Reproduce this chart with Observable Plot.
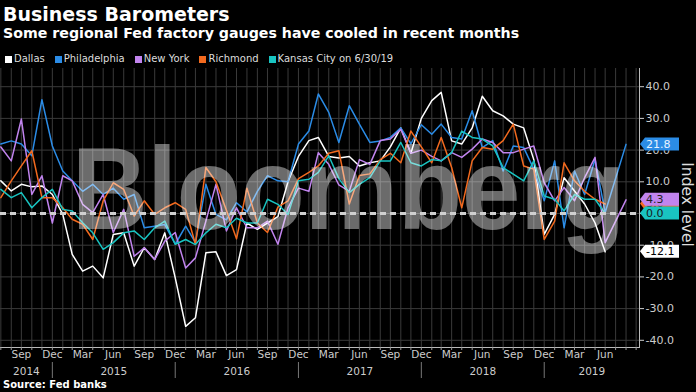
<!DOCTYPE html>
<html><head><meta charset="utf-8">
<script src="https://cdn.jsdelivr.net/npm/d3@7"></script>
<script src="https://cdn.jsdelivr.net/npm/@observablehq/plot@0.6"></script>
<style>
html,body{margin:0;padding:0;background:#000;}
#wrap{position:relative;width:696px;height:392px;overflow:hidden;background:#000;font-family:"DejaVu Sans",sans-serif;color:#fff;}
.title{position:absolute;left:3px;top:5px;font-weight:bold;font-size:19px;line-height:19px;white-space:nowrap;}
.subtitle{position:absolute;left:3px;top:26px;font-weight:bold;font-size:14.2px;line-height:14px;white-space:nowrap;}
.legend{position:absolute;left:5px;top:54px;font-size:10px;line-height:10px;display:flex;color:#ddd;white-space:nowrap;}
.legend .item{display:flex;align-items:center;margin-right:10px;}
.legend .sw{width:7px;height:7px;margin-right:2px;}
#chart{position:absolute;left:0;top:68px;}
.source{position:absolute;left:3px;top:380px;font-weight:bold;font-size:10px;line-height:10px;}
</style></head>
<body>
<div id="wrap">
  <div class="title">Business Barometers</div>
  <div class="subtitle">Some regional Fed factory gauges have cooled in recent months</div>
  <div class="legend" id="legend"></div>
  <div id="chart"></div>
  <div class="source">Source: Fed banks</div>
</div>
<script>
// ---- data (monthly readings, month-end dates starting Jul 2014) ----
const seriesNames = ["Dallas", "Philadelphia", "New York", "Richmond", "Kansas City"];
const legendLabels = ["Dallas", "Philadelphia", "New York", "Richmond", "Kansas City on 6/30/19"];
const colors = ["#ffffff", "#2b8ce6", "#c184ee", "#f26a1f", "#19c4c1"];
const tagTextColors = ["#000000", "#e8f3ff", "#222222", "#222222", "#1a1a1a"];
const firstMonth = "2014-07-01";
const lastMonth = "2019-06-01";
const lastReadingDate = "2019-08-31"; // Philadelphia & New York latest points

const dallas = [10.3, 7.1, 9.2, 8.4, 8.7, 6.0, -0.3, -12.9, -18.2, -16.6,
  -20.3, -6.6, -6.1, -16.6, -10.8, -14.5, -6.1, -20.3, -35.6, -32.9,
  -12.4, -12.1, -19.6, -17.7, -3.0, -5.0, -3.0, -1.0, 10.0, 18.0,
  23.0, 24.0, 18.0, 17.5, 18.0, 15.0, 16.0, 16.6, 21.0, 27.0,
  19.0, 30.0, 35.6, 38.2, 22.9, 21.9, 27.0, 37.0, 32.4, 30.8,
  28.2, 27.0, 17.0, -6.6, -0.3, 11.3, 7.1, 3.0, -3.0, -12.1];
const philadelphia = [21.9, 22.9, 21.9, 18.2, 35.9, 21.3, 13.4, 10.3, 7.0, 9.2,
  6.0, 8.0, 4.5, 6.0, -4.5, -4.0, -3.5, -9.7, -4.0, -9.2,
  9.2, -0.3, -2.0, 3.4, 0.5, 7.0, 11.9, 10.3, 10.0, 21.9,
  26.0, 37.7, 31.9, 22.4, 34.0, 28.2, 22.4, 22.9, 24.0, 27.0,
  22.0, 28.0, 25.0, 28.2, 24.0, 23.5, 32.4, 20.8, 23.0, 13.4,
  21.3, 20.8, 14.0, 4.0, 16.6, -4.5, 13.4, 6.0, 17.1, 0.3];
const philadelphiaLatest = 21.8;
const newYork = [21.0, 16.6, 29.8, 6.0, 11.9, -3.0, 11.9, 10.3, 2.9, 0.3,
  6.0, -6.0, 1.3, -13.5, -10.8, -14.5, -8.7, -6.0, -17.2, -14.0,
  -2.4, 9.2, -5.5, 1.8, -4.5, -4.5, -2.4, -9.7, 1.8, 8.0,
  7.0, 19.2, 15.5, 9.0, 7.0, 17.0, 15.5, 23.0, 23.5, 26.6,
  19.0, 20.0, 18.0, 16.6, 19.2, 17.7, 20.3, 23.5, 22.4, 19.2,
  19.2, 20.3, 21.3, 9.7, 4.0, 8.2, 4.0, 11.3, 17.7, -9.2];
const newYorkLatest = 4.3;
const richmond = [5.0, 10.3, 15.0, 19.8, 5.0, 5.0, 1.8, -1.8, -3.4, -8.2,
  4.0, 9.7, 7.6, -0.8, 4.0, -0.3, 1.8, 3.4, 1.3, -9.7,
  14.5, 10.0, 1.0, -8.0, 8.0, -3.0, -6.0, 2.0, 4.0, 11.0,
  13.0, 15.0, 19.0, 19.8, 3.0, 12.0, 12.5, 17.0, 19.0, 16.0,
  26.0, 21.0, 16.0, 24.0, 14.5, 1.8, 16.6, 20.8, 20.3, 23.0,
  28.2, 15.0, 14.0, -8.2, -2.4, 16.0, 10.3, 7.0, 4.5, 3.0];
const kansasCity = [7.6, 5.0, 6.6, 1.8, 5.0, 7.6, 1.3, 0.8, -2.9, -6.1,
  -11.3, -9.2, -6.1, -5.5, -8.2, -4.5, -2.4, -9.7, -8.2, -9.8,
  -6.1, -3.4, -4.5, -1.5, -3.0, -3.0, 4.5, 2.9, -0.3, 10.3,
  10.8, 13.0, 18.2, 11.0, 6.6, 9.2, 11.3, 16.6, 16.6, 22.4,
  16.0, 15.0, 17.0, 16.6, 19.2, 26.0, 24.0, 23.5, 21.3, 14.5,
  12.4, 10.3, 16.6, 5.5, 4.5, 0.8, 6.0, 4.5, 4.5, 0.0];

const yTicks = [-40, -30, -20, -10, 0, 10, 20, 30, 40];
const tickMonths = ["Mar", "Jun", "Sep", "Dec"];
const years = ["2014", "2015", "2016", "2017", "2018", "2019"];
const xDomain = [new Date("2014-07-30"), new Date("2019-10-10")];
const yDomain = [-42.27, 45.74];

// ---- build tables ----
const monthEnd = d => d3.utcDay.offset(d3.utcMonth.offset(d3.utcMonth.floor(d), 1), -1);
const months = d3.utcMonths(new Date(firstMonth), d3.utcMonth.offset(new Date(lastMonth), 1)).map(monthEnd);
const valuesBySeries = [dallas, philadelphia, newYork, richmond, kansasCity];
const latestBySeries = [null, philadelphiaLatest, newYorkLatest, null, null];
const rows = [];
valuesBySeries.forEach((vals, s) => {
  vals.forEach((v, i) => rows.push({series: seriesNames[s], date: months[i], value: v}));
  if (latestBySeries[s] != null) rows.push({series: seriesNames[s], date: new Date(lastReadingDate), value: latestBySeries[s]});
});
const lastValue = seriesNames.map((name, s) => latestBySeries[s] != null ? latestBySeries[s] : valuesBySeries[s][valuesBySeries[s].length - 1]);

const gridMonths = d3.utcMonths(d3.utcMonth.floor(xDomain[0]), d3.utcMonth.floor(xDomain[1])).map(monthEnd).filter(d => d >= xDomain[0] && d <= xDomain[1]);
const fmtMonth = d3.utcFormat("%b");
const lastLabelDate = monthEnd(new Date(lastMonth));
const quarterDates = gridMonths.filter(d => tickMonths.includes(fmtMonth(d)) && d <= lastLabelDate);
const yearBoundaries = years.slice(0, -1).map(y => new Date(`${y}-12-31`));
const yearLabels = years.map((y, i) => {
  const a = i === 0 ? xDomain[0] : new Date(`${+y - 1}-12-31`);
  const b = i === years.length - 1 ? xDomain[1] : new Date(`${y}-12-31`);
  return {label: y, date: new Date((+a + +b) / 2)};
});

// legend
const legend = document.getElementById("legend");
legendLabels.forEach((l, i) => {
  const it = document.createElement("div"); it.className = "item";
  const sw = document.createElement("div"); sw.className = "sw"; sw.style.background = colors[i];
  const tx = document.createElement("span"); tx.textContent = l;
  it.appendChild(sw); it.appendChild(tx); legend.appendChild(it);
});

function pick(args) {
  return (args[0] && typeof args[0].y === "function") ? [args[0], args[1]] : [args[1], args[3]];
}
function watermark(...args) {
  const [scales, dims] = pick(args);
  const left = dims.marginLeft, right = dims.width - dims.marginRight;
  return d3.create("svg:text")
    .attr("x", left + (right - left) * 0.5455).attr("y", scales.y(-4.9))
    .attr("text-anchor", "middle")
    .attr("font-family", "Liberation Sans, Arial, sans-serif")
    .attr("font-weight", "bold").attr("font-size", 117)
    .attr("textLength", 553).attr("lengthAdjust", "spacingAndGlyphs")
    .attr("fill", "#ffffff").attr("fill-opacity", 0.42)
    .text("Bloomberg").node();
}
const tagOrder = [3, 4, 2, 1, 0];
function tags(...args) {
  const [scales, dims] = pick(args);
  const g = d3.create("svg:g").attr("font-family", "DejaVu Sans, sans-serif").attr("font-size", 11).attr("text-anchor", "start");
  const x0 = dims.width - dims.marginRight + 1;
  for (const s of tagOrder) {
    const y = scales.y(lastValue[s]);
    g.append("path").attr("d", `M${x0},${y}L${x0 + 5},${y - 6.5}H${x0 + 39}V${y + 6.5}H${x0 + 5}Z`).attr("fill", colors[s]);
    g.append("text").attr("x", x0 + 6).attr("y", y).attr("dy", "0.36em").attr("text-anchor", "start").attr("fill", tagTextColors[s]).text(lastValue[s].toFixed(1));
  }
  return g.node();
}

const chart = Plot.plot({
  width: 696, height: 312,
  marginTop: 0, marginBottom: 33, marginLeft: 0, marginRight: 57,
  style: {background: "#000", color: "#ccc", fontFamily: "DejaVu Sans, sans-serif", overflow: "visible"},
  x: {type: "utc", domain: xDomain, axis: null},
  y: {domain: yDomain, axis: null},
  color: {domain: seriesNames, range: colors},
  marks: [
    Plot.ruleY(yTicks, {stroke: "#3a3a3a", strokeWidth: 1}),
    Plot.ruleX(gridMonths, {stroke: "#3a3a3a", strokeWidth: 1}),
    Plot.lineY(rows, {x: "date", y: "value", z: "series", stroke: "series", strokeWidth: 1.5}),
    watermark,
    Plot.ruleY([0], {stroke: "#d0d0d0", strokeWidth: 3, strokeDasharray: "6,4"}),
    Plot.frame({anchor: "bottom", stroke: "#bbb"}),
    Plot.frame({anchor: "right", stroke: "#bbb"}),
    Plot.ruleX(gridMonths, {insetTop: 279, insetBottom: -3, stroke: "#999"}),
    Plot.ruleX(yearBoundaries, {insetTop: 294, insetBottom: -31, stroke: "#777"}),
    Plot.axisX(quarterDates, {anchor: "bottom", tickSize: 0, tickPadding: 3, tickFormat: d => fmtMonth(d), fontSize: 10.5, color: "#cccccc", label: null}),
    Plot.text(yearLabels, {x: "date", text: "label", frameAnchor: "bottom", dy: 27, fill: "#cccccc", fontSize: 10.5}),
    Plot.axisY(yTicks, {anchor: "right", tickSize: 4, tickPadding: 2, tickFormat: d => d.toFixed(1), fontSize: 11, color: "#cccccc", label: null}),
    Plot.text(["Index level"], {frameAnchor: "right", textAnchor: "middle", dx: 47, dy: -3.5, rotate: 90, fontSize: 15.5, fill: "#dddddd"}),
    tags
  ]
});
document.getElementById("chart").appendChild(chart);
</script>
</body></html>
